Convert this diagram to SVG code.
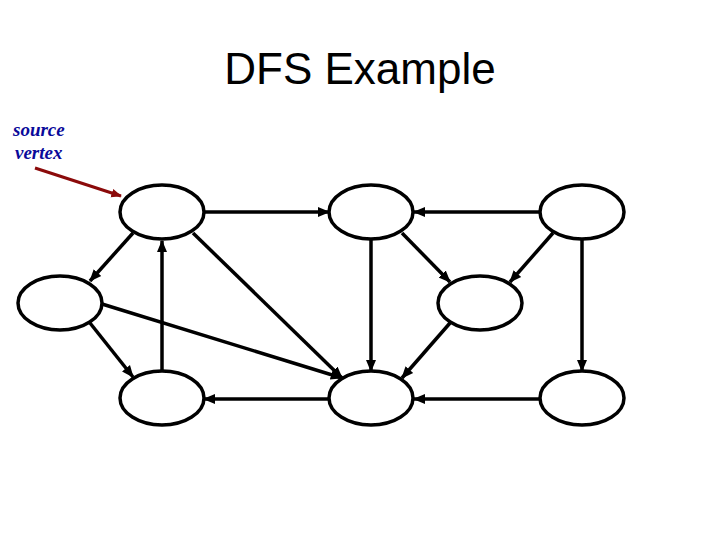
<svg xmlns="http://www.w3.org/2000/svg" width="720" height="540" viewBox="0 0 720 540">
<style>
.n{fill:#fff;stroke:#000;stroke-width:3.5}
.e{stroke:#000;stroke-width:3.5;fill:none;marker-end:url(#ah)}
.t{font-family:"Liberation Sans",Arial,sans-serif;font-size:44px;fill:#000}
.s{font-family:"Liberation Serif","Times New Roman",serif;font-size:19px;font-style:italic;font-weight:bold;fill:#0a0a9a}
</style>
<defs>
<marker id="ah" markerWidth="3.5" markerHeight="3.5" refX="3.2" refY="1.75" orient="auto" markerUnits="strokeWidth"><path d="M0,0.3 L3.5,1.75 L0,3.2 Z" fill="#000"/></marker>
<marker id="ahr" markerWidth="3.5" markerHeight="3.5" refX="3.2" refY="1.75" orient="auto" markerUnits="strokeWidth"><path d="M0,0.3 L3.5,1.75 L0,3.2 Z" fill="#8b0a0a"/></marker>
</defs>
<rect width="720" height="540" fill="#fff"/>
<text class="t" x="360" y="84" text-anchor="middle">DFS Example</text>
<text class="s" x="13" y="136">source</text>
<text class="s" x="15" y="159">vertex</text>
<line x1="35" y1="168" x2="121" y2="196" stroke="#8b0a0a" stroke-width="3" marker-end="url(#ahr)"/>
<g id="edges">
<line class="e" x1="204" y1="212" x2="329" y2="212"/>
<line class="e" x1="540" y1="212" x2="414" y2="212"/>
<line class="e" x1="133" y1="233" x2="90" y2="281"/>
<line class="e" x1="162" y1="372" x2="162" y2="241"/>
<line class="e" x1="193" y1="233" x2="342" y2="378"/>
<line class="e" x1="102" y1="304" x2="342" y2="378"/>
<line class="e" x1="90" y1="323" x2="133" y2="377"/>
<line class="e" x1="329" y1="399" x2="204" y2="399"/>
<line class="e" x1="371" y1="240" x2="371" y2="371"/>
<line class="e" x1="402" y1="233" x2="450" y2="282"/>
<line class="e" x1="553" y1="233" x2="510" y2="282"/>
<line class="e" x1="450" y1="323" x2="402" y2="378"/>
<line class="e" x1="582" y1="240" x2="582" y2="371"/>
<line class="e" x1="540" y1="399" x2="414" y2="399"/>
</g>
<g id="A"><ellipse class="n" cx="162" cy="212" rx="42" ry="27"/></g>
<g id="B"><ellipse class="n" cx="60" cy="303" rx="42" ry="27"/></g>
<g id="C"><ellipse class="n" cx="162" cy="398" rx="42" ry="27"/></g>
<g id="D"><ellipse class="n" cx="371" cy="212" rx="42" ry="27"/></g>
<g id="E"><ellipse class="n" cx="371" cy="398" rx="42" ry="27"/></g>
<g id="F"><ellipse class="n" cx="480" cy="303" rx="42" ry="27"/></g>
<g id="G"><ellipse class="n" cx="582" cy="212" rx="42" ry="27"/></g>
<g id="H"><ellipse class="n" cx="582" cy="398" rx="42" ry="27"/></g>
</svg>
